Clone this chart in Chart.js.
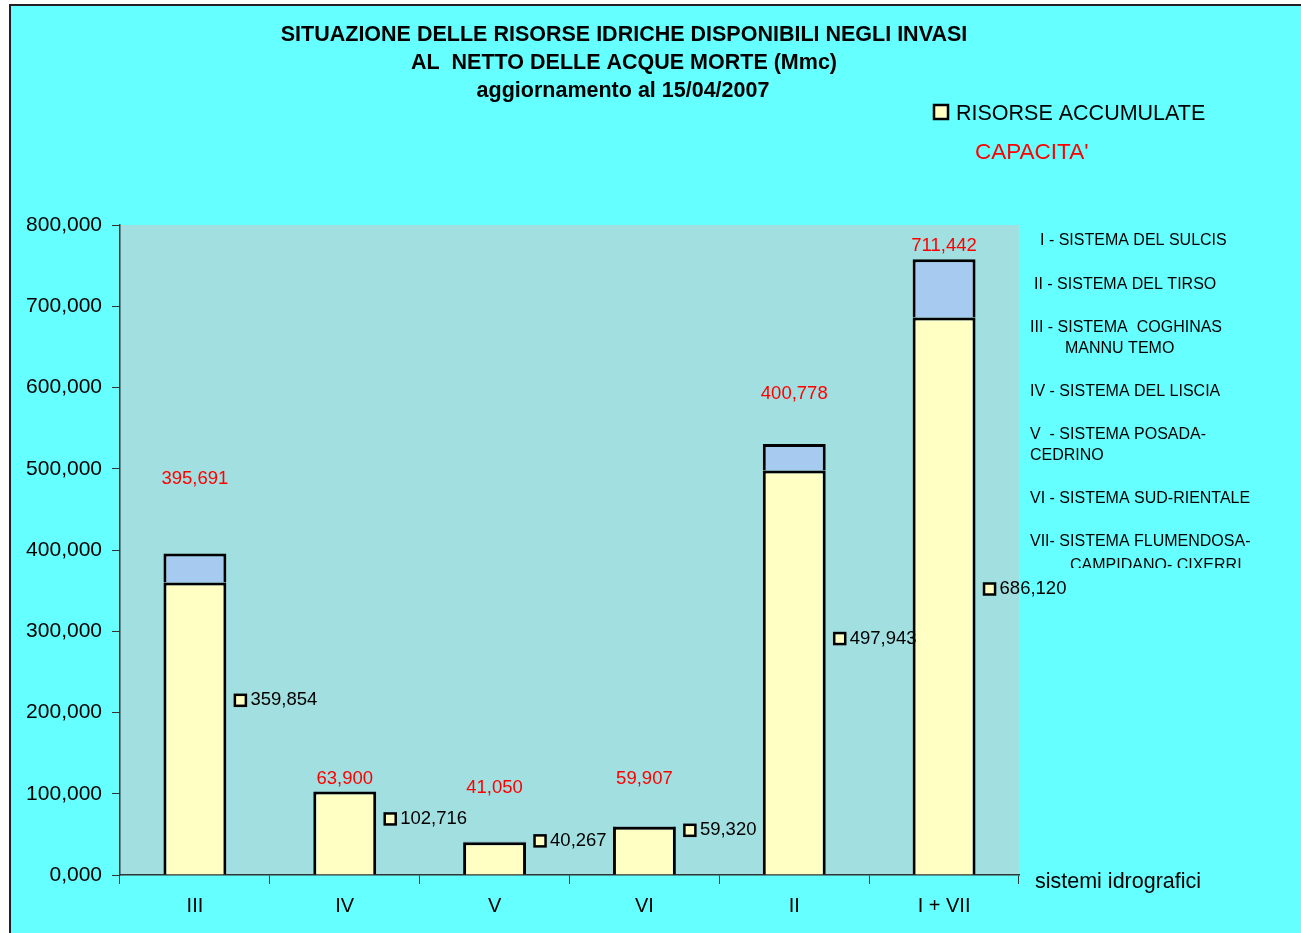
<!DOCTYPE html>
<html>
<head>
<meta charset="utf-8">
<script src="https://cdn.jsdelivr.net/npm/chart.js@4/dist/chart.umd.min.js"></script>
<style>
    body { margin: 0; background: #ffffff; }
    #wrap { position: relative; width: 1301px; height: 933px; }
</style>
</head>
<body>
<div id="wrap"><canvas id="chart"></canvas></div>
<script>
// sistemi idrografici
const categories = ["III", "IV", "V", "VI", "II", "I + VII"];
// risorse accumulate (Mmc)
const accumulate = [359854, 102716, 40267, 59320, 497943, 686120];
// quota residua fino alla capacita' (parte azzurra)
const residuo = [35837, null, 783, 587, 32600, 71800];
// capacita' (etichette rosse)
const capacita = ["395,691", "63,900", "41,050", "59,907", "400,778", "711,442"];
const capacitaLivello = [487000, 118000, 107000, 118000, 592000, 774000];
const accumulateLivello = [215000, 69000, 42000, 55000, 291000, 352000];
// tick asse y
const yTicks = [0, 100000, 200000, 300000, 400000, 500000, 600000, 700000, 800000];

const legenda = [
    ["I - SISTEMA DEL SULCIS", 1040, 241],
    ["II - SISTEMA DEL TIRSO", 1034, 285],
    ["III - SISTEMA  COGHINAS", 1030, 328],
    ["MANNU TEMO", 1065, 349],
    ["IV - SISTEMA DEL LISCIA", 1030, 392],
    ["V  - SISTEMA POSADA-", 1030, 435],
    ["CEDRINO", 1030, 456],
    ["VI - SISTEMA SUD-RIENTALE", 1030, 499],
    ["VII- SISTEMA FLUMENDOSA-", 1030, 542],
    ["CAMPIDANO- CIXERRI", 1070, 566]
];

const FONT = "'Liberation Sans', Arial, sans-serif";
const AXIS = "#333333";

const sfondo = {
    id: "sfondo",
    beforeDraw(chart) {
        const ctx = chart.ctx;
        const a = chart.chartArea;
        ctx.save();
        ctx.fillStyle = "#ffffff";
        ctx.fillRect(0, 0, chart.width, chart.height);
        ctx.fillStyle = "#66FFFF";
        ctx.fillRect(10, 5, chart.width - 10, chart.height - 5);
        ctx.strokeStyle = "#222222";
        ctx.lineWidth = 2;
        ctx.beginPath();
        ctx.moveTo(10, chart.height);
        ctx.lineTo(10, 5);
        ctx.lineTo(chart.width, 5);
        ctx.stroke();
        ctx.fillStyle = "#A2DFE0";
        ctx.fillRect(a.left, a.top, a.right - a.left, a.bottom - a.top);
        ctx.restore();
    }
};

const testi = {
    id: "testi",
    afterDraw(chart) {
        const ctx = chart.ctx;
        const y = chart.scales.y;
        const bars = chart.getDatasetMeta(0).data;
        ctx.save();

        // titolo
        ctx.fillStyle = "#000";
        ctx.textAlign = "center";
        ctx.textBaseline = "middle";
        ctx.font = "bold 21.5px " + FONT;
        ctx.fillText("SITUAZIONE DELLE RISORSE IDRICHE DISPONIBILI NEGLI INVASI", 624, 35);
        ctx.fillText("AL  NETTO DELLE ACQUE MORTE (Mmc)", 624, 63);
        ctx.fillText("aggiornamento al 15/04/2007", 623, 91);

        // legenda in alto
        ctx.textAlign = "left";
        ctx.fillStyle = "#FFFFC4";
        ctx.fillRect(934, 105, 14, 14);
        ctx.strokeStyle = "#000";
        ctx.lineWidth = 2.5;
        ctx.strokeRect(934, 105, 14, 14);
        ctx.fillStyle = "#000";
        ctx.font = "21.5px " + FONT;
        ctx.fillText("RISORSE ACCUMULATE", 956, 114);
        ctx.fillStyle = "#FF0000";
        ctx.font = "22.5px " + FONT;
        ctx.fillText("CAPACITA'", 975, 153);

        // elenco sistemi
        ctx.save();
        ctx.beginPath();
        ctx.rect(1020, 225, 281, 343);
        ctx.clip();
        ctx.fillStyle = "#000";
        ctx.font = "16px " + FONT;
        legenda.forEach(r => ctx.fillText(r[0], r[1], r[2]));
        ctx.restore();

        ctx.fillStyle = "#000";
        ctx.font = "21.5px " + FONT;
        ctx.fillText("sistemi idrografici", 1035, 882);

        // etichette barre
        bars.forEach((bar, i) => {
            ctx.font = "18.5px " + FONT;
            ctx.textAlign = "center";
            ctx.fillStyle = "#FF0000";
            ctx.fillText(capacita[i], bar.x, y.getPixelForValue(capacitaLivello[i]));

            const mx = bar.x + bar.width / 2 + 14;
            const my = y.getPixelForValue(accumulateLivello[i]);
            ctx.fillStyle = "#FFFFC4";
            ctx.fillRect(mx - 5.5, my - 5.5, 11, 11);
            ctx.strokeStyle = "#000";
            ctx.lineWidth = 2.5;
            ctx.strokeRect(mx - 5.5, my - 5.5, 11, 11);
            ctx.fillStyle = "#000";
            ctx.textAlign = "left";
            ctx.fillText(accumulate[i].toLocaleString("en-US"), mx + 10, my);
        });
        ctx.restore();
    }
};

new Chart(document.getElementById("chart"), {
    type: "bar",
    data: {
        labels: categories,
        datasets: [
            {
                label: "RISORSE ACCUMULATE",
                data: accumulate,
                backgroundColor: "#FFFFC4",
                borderColor: "#000",
                borderWidth: 3
            },
            {
                label: "CAPACITA'",
                data: residuo,
                backgroundColor: "#A6CAF0",
                borderColor: "#000",
                borderWidth: 3
            }
        ]
    },
    options: {
        responsive: true,
        maintainAspectRatio: false,
        animation: false,
        layout: { padding: { left: 0, top: 225, right: 282, bottom: 0 } },
        datasets: { bar: { categoryPercentage: 1, barPercentage: 0.42 } },
        plugins: {
            legend: { display: false },
            title: { display: false },
            tooltip: { enabled: false }
        },
        scales: {
            x: {
                stacked: true,
                offset: true,
                grid: { offset: true, drawOnChartArea: false, color: AXIS, tickLength: 9, lineWidth: 1 },
                border: { color: AXIS, width: 1.5 },
                ticks: { color: "#000", font: { family: FONT, size: 20 }, padding: 10 },
                afterFit(scale) { scale.height = 58; }
            },
            y: {
                stacked: true,
                min: 0,
                max: 800000,
                afterBuildTicks(scale) { scale.ticks = yTicks.map(v => ({ value: v })); },
                grid: { drawOnChartArea: false, color: AXIS, tickLength: 8 },
                border: { color: AXIS, width: 1.5 },
                ticks: {
                    color: "#000",
                    font: { family: FONT, size: 21 },
                    padding: 10,
                    callback: v => (v / 1000) + ",000"
                },
                afterFit(scale) { scale.width = 120; }
            }
        }
    },
    plugins: [sfondo, testi]
});
</script>
</body>
</html>
